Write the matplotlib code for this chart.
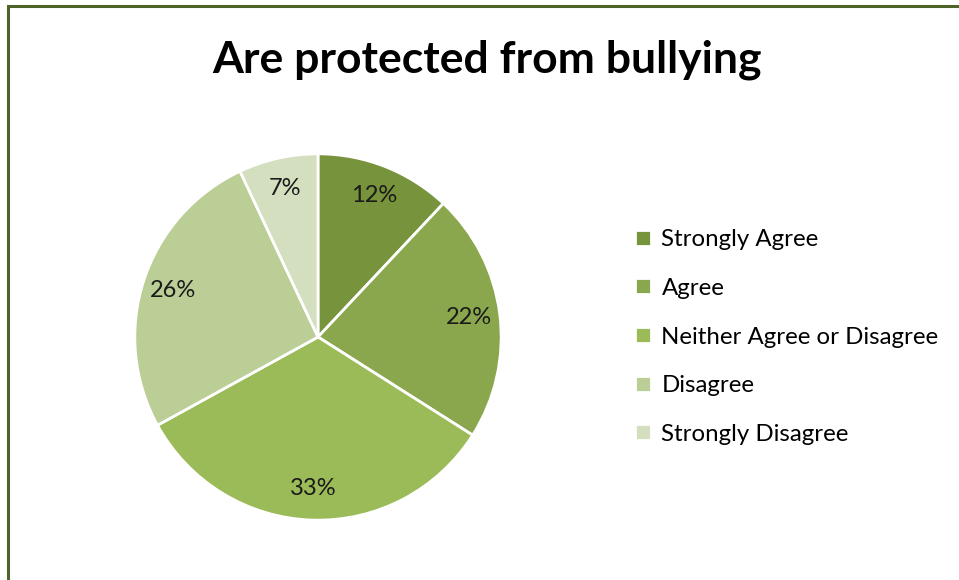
import matplotlib.pyplot as plt
from matplotlib.patches import Rectangle

plt.rcParams['font.family'] = ['Lato', 'DejaVu Sans']

categories = ['Strongly Agree', 'Agree', 'Neither Agree or Disagree',
              'Disagree', 'Strongly Disagree']
shares = [12, 22, 33, 26, 7]
colors = ['#77933C', '#8BA74E', '#9BBB59', '#BBCE96', '#D3DFBF']

fig = plt.figure(figsize=(9.59, 5.80), dpi=100)

# chart frame (only top and left edges show)
fig.add_artist(Rectangle((8 / 959, -0.05), 1.1, (580 - 6) / 580 + 0.05,
                         transform=fig.transFigure, fill=False,
                         edgecolor='#4F6228', linewidth=2.2))

fig.text(487 / 959, 1 - 60 / 580, 'Are protected from bullying',
         ha='center', va='center', fontsize=32, fontweight='bold')

ax = fig.add_axes([133 / 959, 58 / 580, 370 / 959, 370 / 580])
wedges, texts, autotexts = ax.pie(
    shares, colors=colors, startangle=90, counterclock=False,
    autopct='%d%%', pctdistance=0.83, radius=1,
    wedgeprops=dict(edgecolor='white', linewidth=2),
    textprops=dict(fontsize=17, color='#1a1a1a'))
ax.set_xlim(-1.01, 1.01)
ax.set_ylim(-1.01, 1.01)
ax.set_aspect('equal')

fig.legend(wedges, categories, loc='center left',
           bbox_to_anchor=(635 / 959, 1 - 337 / 580), frameon=False,
           borderaxespad=0, borderpad=0,
           fontsize=17.3, handlelength=0.65, handleheight=0.65,
           handletextpad=0.45, labelspacing=1.15)

fig.savefig('out.png', dpi=100)
